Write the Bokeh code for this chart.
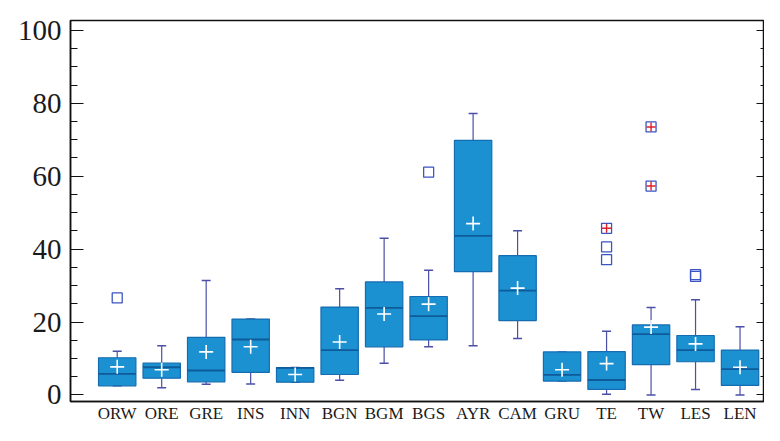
import numpy as np
from bokeh.plotting import figure
from bokeh.models import LinearAxis, FixedTicker, Range1d
from bokeh.embed import file_html
from bokeh.resources import INLINE

categories = ["ORW", "ORE", "GRE", "INS", "INN", "BGN", "BGM", "BGS",
              "AYR", "CAM", "GRU", "TE", "TW", "LES", "LEN"]
upper  = [12.0, 13.5, 31.4, 20.8, 7.5, 29.1, 43.0, 34.2, 77.2, 45.0, 11.8, 17.5, 24.0, 26.1, 18.7]
q3     = [10.2,  8.7, 15.8, 20.8, 7.5, 24.1, 31.0, 27.0, 69.8, 38.2, 11.8, 11.9, 19.2, 16.3, 12.3]
median = [ 5.8,  7.6,  6.7, 15.2, 7.4, 12.3, 23.9, 21.6, 43.6, 28.6,  5.5,  4.1, 16.7, 12.3,  7.1]
q1     = [ 2.5,  4.6,  3.6,  6.2, 3.5,  5.6, 13.2, 15.1, 33.8, 20.4,  3.8,  1.5,  8.3,  9.1,  2.6]
lower  = [ 2.5,  2.0,  2.9,  3.0, 3.5,  4.0,  8.7, 13.2, 13.5, 15.5,  3.8,  0.2,  0.0,  1.5,  0.0]
mean   = [ 7.7,  6.9, 11.8, 13.2, 5.6, 14.5, 22.2, 24.9, 47.0, 29.3,  6.9,  8.6, 18.6, 14.0,  7.6]

# outliers
out_cat = ["ORW", "BGS", "TE", "TE", "LES", "LES"]
out_val = [26.6, 61.1, 40.6, 37.1, 32.5, 33.0]
# extreme outliers
ext_cat = ["TE", "TW", "TW"]
ext_val = [45.7, 73.5, 57.3]

y_ticks = [0, 20, 40, 60, 80, 100]

xpos = np.arange(1, len(categories) + 1)
idx = {c: i + 1 for i, c in enumerate(categories)}
box_w = 0.84
hw = box_w / 2

p = figure(width=764, height=425, output_backend="svg", toolbar_location=None,
           x_range=Range1d(-0.05, 15.55), y_range=Range1d(-1.8, 102.7),
           min_border_left=70, min_border_top=20, min_border_bottom=20, min_border_right=0)
p.background_fill_color = "white"
p.border_fill_color = "white"
p.xgrid.visible = False
p.ygrid.visible = False
p.outline_line_color = "#111111"
p.outline_line_width = 1.5

serif = "Liberation Serif"

# left axis
ya = p.yaxis[0]
ya.ticker = FixedTicker(ticks=y_ticks, minor_ticks=list(range(0, 101, 5)))
ya.major_tick_in = 13
ya.major_tick_out = 0
ya.minor_tick_in = 7
ya.minor_tick_out = 0
ya.major_label_text_font = serif
ya.major_label_text_font_size = "29px"
ya.major_label_text_color = "#1a1a1a"
ya.major_label_standoff = 9
ya.axis_line_color = "#111111"
ya.axis_line_width = 1.5
ya.major_tick_line_color = "#111111"
ya.minor_tick_line_color = "#111111"

# right axis (ticks only)
ra = LinearAxis(ticker=FixedTicker(ticks=y_ticks, minor_ticks=list(range(0, 101, 5))))
ra.major_tick_in = 8
ra.major_tick_out = 0
ra.minor_tick_in = 4
ra.minor_tick_out = 0
ra.major_label_overrides = {t: "" for t in y_ticks}
ra.major_label_standoff = 0
ra.axis_line_color = "#111111"
ra.major_tick_line_color = "#111111"
ra.minor_tick_line_color = "#111111"
p.add_layout(ra, "right")

# bottom axis
xa = p.xaxis[0]
xa.ticker = FixedTicker(ticks=list(xpos))
xa.major_label_overrides = {int(i): c for i, c in zip(xpos, categories)}
xa.major_tick_in = 0
xa.major_tick_out = 0
xa.minor_tick_in = 0
xa.minor_tick_out = 0
xa.major_label_text_font = serif
xa.major_label_text_font_size = "17px"
xa.major_label_text_color = "#1a1a1a"
xa.major_label_standoff = 2
xa.axis_line_color = "#111111"
xa.axis_line_width = 1.5

box_fill = "#1b91d2"
box_line = "#156cb0"
whisk = "#4b4fa6"
med_col = "#0f5a98"

# whiskers
p.segment(x0=xpos, y0=q3, x1=xpos, y1=upper, line_color=whisk, line_width=1.2)
p.segment(x0=xpos, y0=q1, x1=xpos, y1=lower, line_color=whisk, line_width=1.2)
p.dash(x=xpos, y=upper, size=9, line_color=whisk, line_width=1.5)
p.dash(x=xpos, y=lower, size=9, line_color=whisk, line_width=1.5)

# boxes
p.vbar(x=xpos, width=box_w, top=q3, bottom=q1, fill_color=box_fill,
       line_color=box_line, line_width=1.2)
# medians
p.segment(x0=xpos - hw, y0=median, x1=xpos + hw, y1=median,
          line_color=med_col, line_width=1.8)
# means
p.scatter(x=xpos, y=mean, marker="cross", size=14, line_color="white", line_width=1.6)

# outliers
ox = [idx[c] for c in out_cat]
p.scatter(x=ox, y=out_val, marker="square", size=10, fill_color=None,
          line_color="#3b55c4", line_width=1.3)
ex = [idx[c] for c in ext_cat]
p.scatter(x=ex, y=ext_val, marker="square", size=10, fill_color=None,
          line_color="#3b55c4", line_width=1.3)
p.scatter(x=ex, y=ext_val, marker="cross", size=9, line_color="#e0202a", line_width=1.4)

open("out.html", "w").write(file_html(p, INLINE))
